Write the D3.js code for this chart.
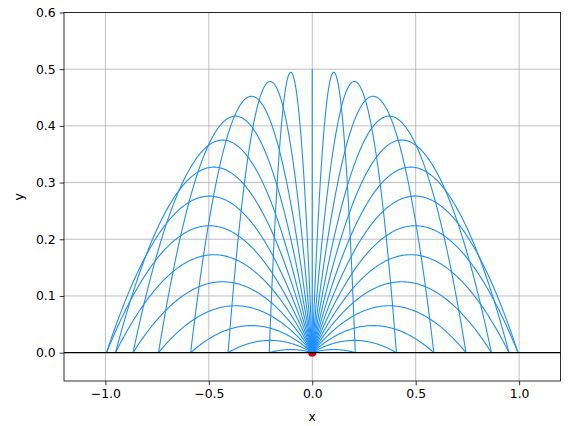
<!DOCTYPE html>
<html>
<head>
<meta charset="utf-8">
<script src="https://cdn.jsdelivr.net/npm/d3@7"></script>
<style>
  body { margin: 0; background: #fff; }
  text { font-family: "DejaVu Sans", sans-serif; }
</style>
</head>
<body>
<div class="chart"></div>
<script>
// launch angles (degrees), read from landing points / apex heights
var launchAngles = [0, 6, 12, 18, 24, 30, 36, 42, 48, 54, 60, 66, 72, 78, 84, 90,
  96, 102, 108, 114, 120, 126, 132, 138, 144, 150, 156, 162, 168, 174, 180];
var speed = 1;      // v^2 / g = 1 -> max range 1
var gravity = 1;
var xTicks = [-1.0, -0.5, 0.0, 0.5, 1.0];
var yTicks = [0.0, 0.1, 0.2, 0.3, 0.4, 0.5, 0.6];
var origin = [{ x: 0, y: 0 }];

var W = 570, H = 426;
var margin = { top: 12.5, right: 9.5, bottom: 45, left: 64 };
var width = W - margin.left - margin.right;
var height = H - margin.top - margin.bottom;

var xScale = d3.scaleLinear().domain([-1.2, 1.2]).range([0, width]);
var yScale = d3.scaleLinear().domain([-0.05, 0.6]).range([height, 0]);

var svg = d3.select('.chart').append('svg')
  .attr('width', W).attr('height', H);

var chart = svg.append('g')
  .attr('transform', 'translate(' + margin.left + ',' + margin.top + ')');

// grid
chart.append('g').selectAll('line').data(xTicks).enter().append('line')
  .attr('x1', function (d) { return xScale(d); }).attr('x2', function (d) { return xScale(d); })
  .attr('y1', 0).attr('y2', height)
  .attr('stroke', '#b0b0b0').attr('stroke-width', 0.8);
chart.append('g').selectAll('line').data(yTicks).enter().append('line')
  .attr('y1', function (d) { return yScale(d); }).attr('y2', function (d) { return yScale(d); })
  .attr('x1', 0).attr('x2', width)
  .attr('stroke', '#b0b0b0').attr('stroke-width', 0.8);

// trajectory points for each angle
function trajectory(deg) {
  var th = deg * Math.PI / 180;
  var vx = speed * Math.cos(th), vy = speed * Math.sin(th);
  var tEnd = 2 * vy / gravity;
  return d3.range(0, 201).map(function (i) {
    var t = tEnd * i / 200;
    return { x: vx * t, y: vy * t - 0.5 * gravity * t * t };
  });
}

chart.append('g').selectAll('circle').data(origin).enter().append('circle')
  .attr('cx', function (d) { return xScale(d.x); })
  .attr('cy', function (d) { return yScale(d.y); })
  .attr('r', 4).attr('fill', '#e00000');

var line = d3.line()
  .x(function (d) { return xScale(d.x); })
  .y(function (d) { return yScale(d.y); });

chart.append('g').selectAll('path').data(launchAngles).enter().append('path')
  .attr('d', function (d) { return line(trajectory(d)); })
  .attr('fill', 'none').attr('stroke', '#1e90ff').attr('stroke-width', 1.1);

// ground line
chart.append('line')
  .attr('x1', 0).attr('x2', width)
  .attr('y1', yScale(0)).attr('y2', yScale(0))
  .attr('stroke', '#000').attr('stroke-width', 1.3);

// axes
var xAxis = chart.append('g')
  .attr('transform', 'translate(0,' + height + ')')
  .call(d3.axisBottom(xScale).tickValues(xTicks).tickSize(4.3).tickPadding(4)
    .tickFormat(function (d) { return d3.format('.1f')(d).replace('-', '\u2212'); }));
var yAxis = chart.append('g')
  .call(d3.axisLeft(yScale).tickValues(yTicks).tickSize(4.3).tickPadding(4)
    .tickFormat(d3.format('.1f')));
[xAxis, yAxis].forEach(function (a) {
  a.select('.domain').remove();
  a.selectAll('text').style('font-size', '12.4px').attr('fill', '#000');
  a.selectAll('line').attr('stroke', '#000').attr('stroke-width', 0.8);
});

chart.append('rect')
  .attr('width', width).attr('height', height)
  .attr('fill', 'none').attr('stroke', '#000').attr('stroke-width', 0.8);

chart.append('text')
  .attr('x', width / 2).attr('y', height + 40)
  .attr('text-anchor', 'middle').style('font-size', '12.4px').text('x');
chart.append('text')
  .attr('transform', 'translate(' + (-41) + ',' + (height / 2) + ') rotate(-90)')
  .attr('text-anchor', 'middle').style('font-size', '12.4px').text('y');
</script>
</body>
</html>
